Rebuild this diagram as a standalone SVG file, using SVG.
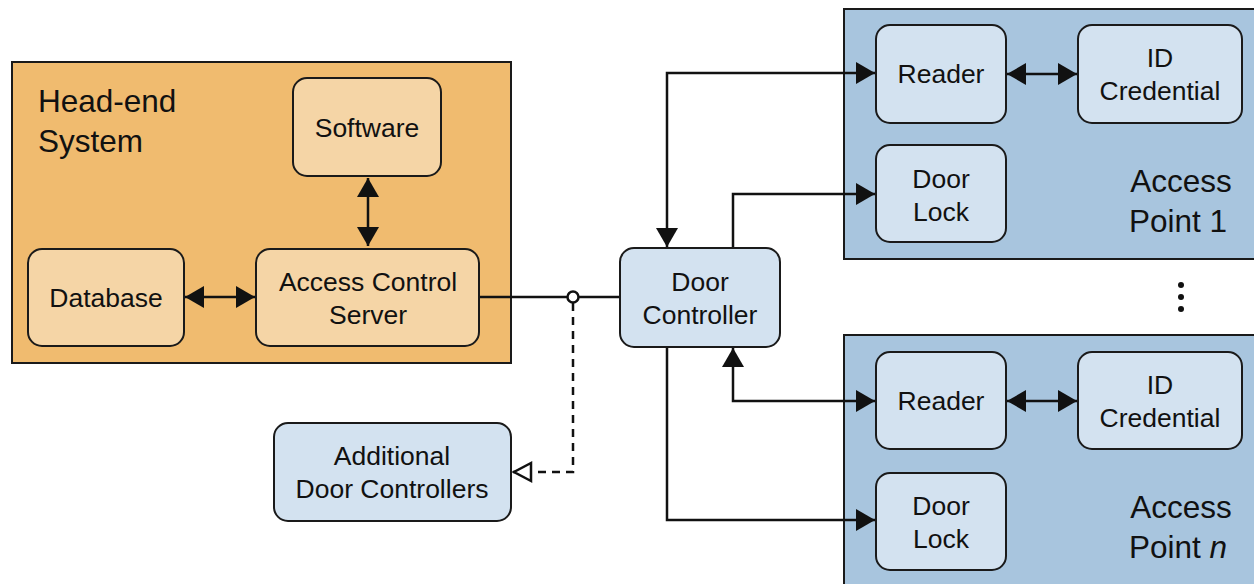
<svg xmlns="http://www.w3.org/2000/svg" width="1254" height="584" viewBox="0 0 1254 584">
<style>
.t{font-family:"Liberation Sans",Arial,sans-serif;font-size:26.5px;fill:#111;text-anchor:middle}
.big{font-family:"Liberation Sans",Arial,sans-serif;font-size:31.5px;fill:#111}
.cont-o{fill:#F0BB6F;stroke:#1a1a1a;stroke-width:2}
.cont-b{fill:#A8C5DE;stroke:#1a1a1a;stroke-width:2}
.node-o{fill:#F5D5A6;stroke:#1a1a1a;stroke-width:2}
.node-b{fill:#D3E2F0;stroke:#1a1a1a;stroke-width:2}
.c{fill:none;stroke:#111;stroke-width:2.5}
.d{fill:none;stroke:#111;stroke-width:2.5;stroke-dasharray:8 6}
</style>
<defs>
<marker id="ah" markerUnits="userSpaceOnUse" markerWidth="24" markerHeight="24" viewBox="0 0 24 24" refX="22" refY="12" orient="auto-start-reverse">
<path d="M3,1 L22,12 L3,23 Z" fill="#111"/>
</marker>
<marker id="ho" markerUnits="userSpaceOnUse" markerWidth="24" markerHeight="24" viewBox="0 0 24 24" refX="21" refY="12" orient="auto">
<path d="M3,3 L20,12 L3,21 Z" fill="#fff" stroke="#111" stroke-width="2.5"/>
</marker>
</defs>

<g id="headend">
<rect class="cont-o" x="12" y="62" width="499" height="301"/>
<text class="big" x="38" y="112">Head-end</text>
<text class="big" x="38" y="152">System</text>
</g>
<g id="ap1">
<rect class="cont-b" x="844" y="9" width="420" height="250"/>
<text class="big" x="1181" y="192" text-anchor="middle">Access</text>
<text class="big" x="1178" y="232" text-anchor="middle">Point 1</text>
</g>
<g id="apn">
<rect class="cont-b" x="844" y="335" width="420" height="260"/>
<text class="big" x="1181" y="518" text-anchor="middle">Access</text>
<text class="big" x="1178" y="558" text-anchor="middle">Point <tspan font-style="italic">n</tspan></text>
</g>

<g id="connectors">
<path class="c" d="M368,178 V246" marker-start="url(#ah)" marker-end="url(#ah)"/>
<path class="c" d="M185,297 H255" marker-start="url(#ah)" marker-end="url(#ah)"/>
<path class="c" d="M479,297 H568 M578,297 H620"/>
<path class="d" d="M573,303 V472 H513" marker-end="url(#ho)"/>
<path class="c" d="M667,247 V73 H875" marker-start="url(#ah)" marker-end="url(#ah)"/>
<path class="c" d="M733,248 V194 H875" marker-end="url(#ah)"/>
<path class="c" d="M733,348 V401 H875" marker-start="url(#ah)" marker-end="url(#ah)"/>
<path class="c" d="M667,347 V520 H875" marker-end="url(#ah)"/>
<path class="c" d="M1007,74 H1077" marker-start="url(#ah)" marker-end="url(#ah)"/>
<path class="c" d="M1007,401 H1077" marker-start="url(#ah)" marker-end="url(#ah)"/>
<circle cx="573" cy="297" r="5.5" fill="#fff" stroke="#111" stroke-width="2.5"/>
</g>

<g id="software"><rect class="node-o" x="293" y="78" width="148" height="98" rx="14"/><text class="t" x="367" y="137">Software</text></g>
<g id="database"><rect class="node-o" x="28" y="249" width="156" height="97" rx="14"/><text class="t" x="106" y="307">Database</text></g>
<g id="acs"><rect class="node-o" x="256" y="249" width="223" height="97" rx="14"/><text class="t" x="368" y="291">Access Control</text><text class="t" x="368" y="324">Server</text></g>
<g id="doorcontroller"><rect class="node-b" x="620" y="248" width="160" height="99" rx="14"/><text class="t" x="700" y="291">Door</text><text class="t" x="700" y="324">Controller</text></g>
<g id="additional"><rect class="node-b" x="274" y="423" width="237" height="98" rx="14"/><text class="t" x="392" y="465">Additional</text><text class="t" x="392" y="498">Door Controllers</text></g>
<g id="reader1"><rect class="node-b" x="876" y="25" width="130" height="98" rx="14"/><text class="t" x="941" y="83">Reader</text></g>
<g id="id1"><rect class="node-b" x="1078" y="25" width="164" height="98" rx="14"/><text class="t" x="1160" y="67">ID</text><text class="t" x="1160" y="100">Credential</text></g>
<g id="lock1"><rect class="node-b" x="876" y="145" width="130" height="97" rx="14"/><text class="t" x="941" y="188">Door</text><text class="t" x="941" y="221">Lock</text></g>
<g id="readern"><rect class="node-b" x="876" y="352" width="130" height="97" rx="14"/><text class="t" x="941" y="410">Reader</text></g>
<g id="idn"><rect class="node-b" x="1078" y="352" width="164" height="97" rx="14"/><text class="t" x="1160" y="394">ID</text><text class="t" x="1160" y="427">Credential</text></g>
<g id="lockn"><rect class="node-b" x="876" y="473" width="130" height="97" rx="14"/><text class="t" x="941" y="515">Door</text><text class="t" x="941" y="548">Lock</text></g>

<g id="dots" fill="#111">
<circle cx="1181" cy="285" r="3"/><circle cx="1181" cy="297" r="3"/><circle cx="1181" cy="309" r="3"/>
</g>
</svg>
